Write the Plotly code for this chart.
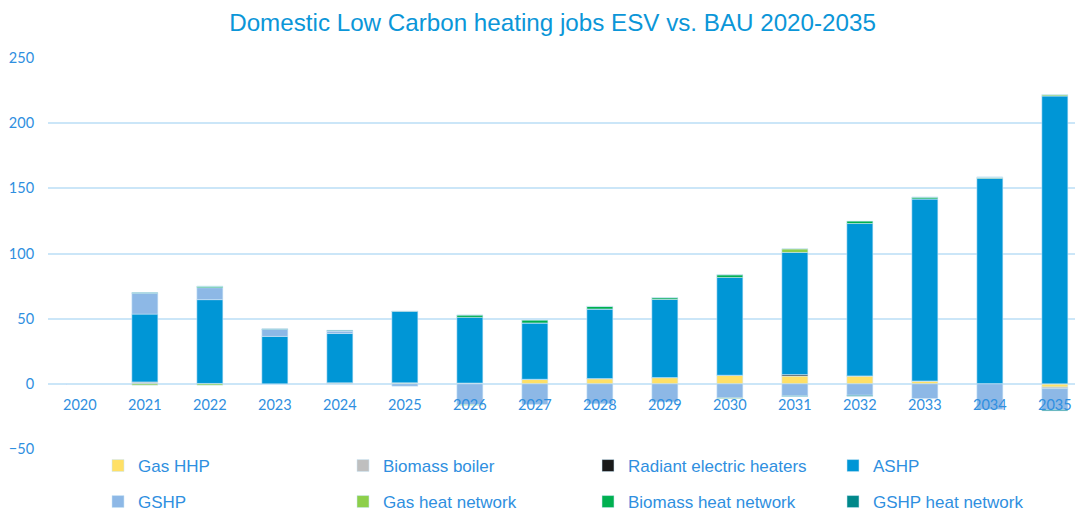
import plotly.graph_objects as go

years = [str(y) for y in range(2020, 2036)]

gas_hhp = [0, 0, 0, 0, 0, 0.8, 0.6, 3.5, 4.0, 4.8, 6.6, 6.1, 6.1, 2.2, 0, -2.5]
biomass_boiler = [0, 1.5, 0.3, 0, 0.8, 0, 0, 0, 0, 0, 0, 0, 0, 0, 0, -1.2]
radiant_electric = [0, 0, 0, 0, 0, 0, 0, 0, 0, 0, 0, 1.0, 0, 0, 0, 0]
ashp = [0, 52.0, 64.3, 36.4, 37.8, 54.7, 50.4, 43.2, 53.4, 60.0, 75.0, 93.7, 116.9, 139.7, 157.7, 220.8]
gshp = [0, 16.0, 9.2, 5.3, 2.0, -1.8, -15.9, -15.8, -15.3, -13.8, -10.8, -9.2, -8.8, -11.3, -19.6, -16.0]
gas_heat_network = [0, -1.0, -1.0, 0, 0, 0, -0.5, 0, 0, 0, -0.5, 2.8, 0, 0, 0.8, 1.0]
biomass_heat_network = [0, 0, 1.0, 0, 0, 0, 1.8, 2.3, 2.0, 1.3, 2.1, 0, 1.8, 1.3, 0, 0]
gshp_heat_network = [0, 0.5, 0, 0.5, 0.5, 0.4, 0, 0, 0, 0, 0, -0.5, -0.7, 0, 0, -1.0]

series = [
    ("Gas HHP", gas_hhp, "#ffe066", "legend"),
    ("Biomass boiler", biomass_boiler, "#bfbfbf", "legend"),
    ("Radiant electric heaters", radiant_electric, "#1a1a1a", "legend"),
    ("ASHP", ashp, "#0096d6", "legend"),
    ("GSHP", gshp, "#8db8e6", "legend2"),
    ("Gas heat network", gas_heat_network, "#8dcf4a", "legend2"),
    ("Biomass heat network", biomass_heat_network, "#00b050", "legend2"),
    ("GSHP heat network", gshp_heat_network, "#00888a", "legend2"),
]

TEXT_BLUE = "#2f8fe0"
GRID = "#cbe6f8"

W, H = 1075, 515
Y_MIN, Y_MAX = -50, 250

fig = go.Figure()
for name, vals, color, leg in series:
    fig.add_trace(go.Bar(
        x=years, y=vals, name=name, legend=leg,
        marker=dict(color=color, line=dict(color="rgba(205,230,248,0.9)", width=0.6)),
        width=0.4,
    ))

legend_common = dict(
    orientation="h",
    xref="container", yref="container",
    x=98 / W, xanchor="left", yanchor="middle",
    entrywidth=200, entrywidthmode="pixels",
    font=dict(family="Liberation Sans, Arial, sans-serif", size=17, color=TEXT_BLUE),
    bgcolor="rgba(0,0,0,0)",
    itemclick=False,
)

fig.update_layout(
    width=W, height=H,
    margin=dict(l=48, r=0, t=58, b=66, autoexpand=False),
    paper_bgcolor="white", plot_bgcolor="white",
    barmode="relative",
    title=dict(
        text="Domestic Low Carbon heating jobs ESV vs. BAU 2020-2035",
        x=0.514, xanchor="center", y=0.957, yanchor="middle",
        font=dict(family="Liberation Sans, Arial, sans-serif", size=24.2, color="#0b96d8"),
    ),
    legend=dict(legend_common, y=(H - 466) / H),
    legend2=dict(legend_common, y=(H - 502) / H),
    xaxis=dict(
        type="category",
        range=[-0.49, 15.31],
        anchor="free", position=(0 - Y_MIN) / (Y_MAX - Y_MIN),
        showgrid=False, zeroline=False, showline=False,
        ticks="outside", ticklen=8, tickcolor="rgba(0,0,0,0)",
        tickfont=dict(family="Lato, sans-serif", size=14.5, color=TEXT_BLUE),
    ),
    yaxis=dict(
        range=[Y_MIN, Y_MAX],
        dtick=50,
        showgrid=True, gridcolor=GRID, gridwidth=1.5,
        zeroline=True, zerolinecolor=GRID, zerolinewidth=1.5,
        showline=False,
        ticks="outside", ticklen=10, tickcolor="rgba(0,0,0,0)",
        tickfont=dict(family="Lato, sans-serif", size=14.5, color=TEXT_BLUE),
    ),
)

fig.write_html("out.html")
